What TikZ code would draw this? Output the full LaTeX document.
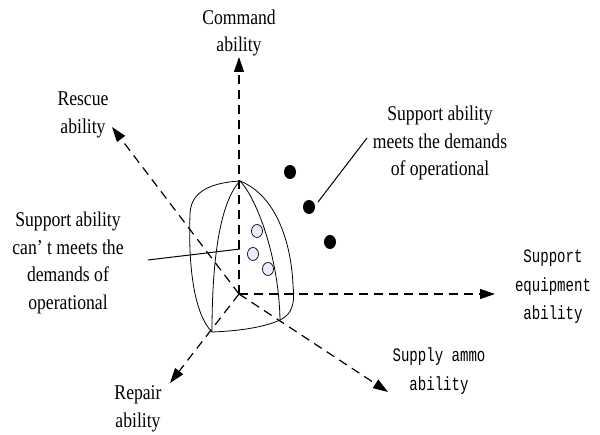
\documentclass[tikz,border=0pt]{standalone}
\usepackage{fontspec}
\setmainfont{Liberation Serif}[FakeStretch=0.84]
\newfontfamily\monofont{Liberation Mono}[FakeStretch=0.74]
\usetikzlibrary{arrows.meta}

\tikzset{
    axis/.style={line width=1.2pt, dash pattern=on 9pt off 6pt,
        -{Triangle[length=15pt,width=10pt]}},
    lbl/.style={align=center, inner sep=0pt, font=\fontsize{21}{27.5}\selectfont},
    mlbl/.style={align=center, inner sep=0pt, font=\monofont\fontsize{19}{28.5}\selectfont},
    bdot/.style={ellipse, fill=black, minimum width=12pt, minimum height=14pt, inner sep=0pt},
    wdot/.style={ellipse, draw, line width=0.7pt, fill=blue!8, minimum width=11pt, minimum height=13pt, inner sep=0pt},
    shell/.style={line width=0.8pt},
}
\usetikzlibrary{shapes.geometric}

\begin{document}
\begin{tikzpicture}[x=1pt, y=-1pt]
\useasboundingbox (0,0) rectangle (600,435);

% axes
\coordinate (O) at (239,294);
\coordinate (cmd) at (239,57);
\coordinate (equ) at (495,294);
\coordinate (res) at (112,127);
\coordinate (rep) at (170,383);
\coordinate (sup) at (388,392);

% shell round the points that miss the demands
\draw[shell] (240,181) .. controls (205,183) and (190,195) .. (190,215)
    .. controls (188,270) and (195,315) .. (212,332)
    .. controls (240,331) and (265,327) .. (280,320)
    .. controls (292,314) and (295,305) .. (293,285)
    .. controls (291,240) and (275,195) .. (240,181) -- cycle;
\draw[shell] (240,181) .. controls (222,200) and (212,250) .. (212,332);
\draw[shell] (240,181) .. controls (258,200) and (279,260) .. (280,320);

\draw[axis] (O) -- (cmd);
\draw[axis] (O) -- (equ);
\draw[axis] (O) -- (res);
\draw[axis] (O) -- (rep);
\draw[axis] (O) -- (sup);

% points
\foreach \px/\py [count=\i] in {290/172, 309/207, 330/242} {
    \node[bdot] (b\i) at (\px,\py) {};
}
\foreach \px/\py [count=\i] in {257/231, 253/254, 268/269} {
    \node[wdot] (w\i) at (\px,\py) {};
}

% labels
\node[lbl] (lcmd) at (239,33) {Command\\ability};
\node[lbl] (lres) at (83,115) {Rescue\\ability};
\node[lbl] (lrep) at (138,409) {Repair\\ability};
\node[mlbl] (lequ) at (553,287) {Support\\equipment\\ability};
\node[mlbl] (lsup) at (439,371) {Supply ammo\\ability};
\node[lbl] (lmeet) at (440,143) {Support ability\\meets the demands\\of operational};
\node[lbl] (lmiss) at (68,263) {Support ability\\can’ t meets the\\demands of\\operational};

% leaders
\coordinate (m1) at (367,138);
\coordinate (m2) at (318,202);
\draw[line width=1pt] (m1) -- (m2);
\coordinate (c1) at (148,260);
\coordinate (c2) at (240,249);
\draw[line width=1pt] (c1) -- (c2);
\end{tikzpicture}
\end{document}
